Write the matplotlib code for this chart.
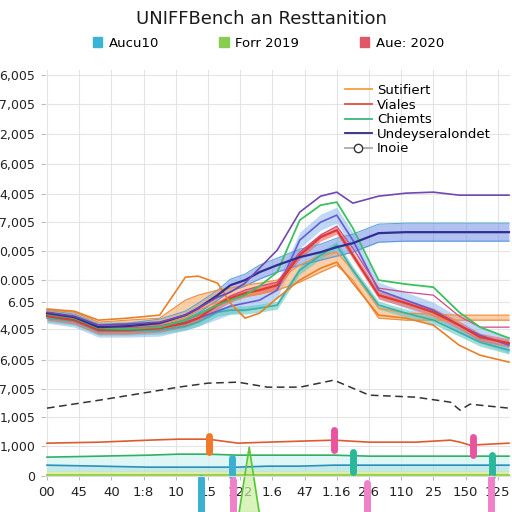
import matplotlib
matplotlib.use('Agg')
import matplotlib.pyplot as plt
from matplotlib.patches import Patch
from matplotlib.lines import Line2D
import numpy as np

# x tick labels (positions 0..14)
x_labels = ['00', '45', '40', '1:8', '10', '15', '122', '1.6', '47', '1.16',
            '2.6', '110', '25', '150', '125']

# y tick positions / labels
y_ticks = [0, 30, 59, 87, 116, 147, 174, 196, 225, 254, 282, 312, 342, 372, 401]
y_labels = ['0', '1,000', '1,005', '7,005', '6,005', '4,005', '6.05', '0.005',
            '0,005', '7,005', '4,005', '6,005', '2,005', '7,005', '6,005']

# upper cluster shared x grid
x_up = [0, 0.85, 1.6, 2.5, 3.5, 4.3, 4.7, 5.3, 5.7, 6.15, 6.6, 7.15, 7.85,
        8.5, 9.0, 9.5, 10.3, 11.15, 12.0, 12.8, 13.45, 14.35]

purple_top = [164, 160, 151, 152, 154, 161, 168, 179, 184, 193, 208, 226, 264,
              280, 284, 273, 280, 283, 284, 281, 281, 281]
navy_mid = [163, 159, 149, 150, 153, 161, 168, 181, 191, 196, 204, 211, 219,
            224, 229, 233, 243, 244, 244, 244, 244, 244]
navy_half = [3, 3, 3, 3, 4, 4, 5, 5, 6, 6, 7, 7, 8, 8, 9, 9, 9, 9, 9, 9, 9, 9]
green_ch = [162, 158, 148, 147, 149, 156, 162, 171, 176, 181, 190, 204, 256,
            271, 274, 248, 196, 192, 189, 164, 149, 138]
blue_peak = [161, 157, 147, 147, 148, 154, 158, 165, 170, 173, 176, 186, 236,
             254, 261, 236, 186, 176, 166, 151, 141, 131]
red_mid = [160, 156, 146, 146, 148, 153, 158, 171, 178, 183, 186, 191, 221,
           239, 246, 221, 181, 173, 164, 151, 139, 133]
orange_hi = [166, 164, 154, 156, 158, 176, 181, 186, 188, 191, 193, 196, 211,
             221, 224, 206, 168, 163, 162, 161, 161, 161]
orange_lo = [160, 158, 149, 150, 152, 158, 166, 174, 178, 180, 182, 186, 194,
             204, 211, 196, 158, 156, 156, 156, 156, 156]
orange_s = [167, 165, 156, 158, 161, 199, 200, 193, 173, 158, 163, 178, 196,
            208, 214, 193, 161, 158, 151, 131, 121, 114]
teal_mid = [158, 155, 145, 145, 146, 150, 154, 164, 166, 166, 168, 171, 206,
            221, 231, 206, 171, 163, 156, 144, 134, 126]
pink_thin = [161, 157, 148, 148, 150, 156, 161, 172, 180, 186, 190, 194, 224,
             241, 250, 228, 188, 184, 181, 160, 149, 149]

# lower lines
x_low = [0, 1.63, 3.16, 4.08, 5.0, 5.93, 6.85, 7.86, 8.91, 10.01, 11.45,
         12.53, 12.83, 13.14, 14.35]
dashed = [68, 76, 84, 89, 93, 94, 89, 89, 96, 81, 79, 74, 66, 72, 68]
red_low = [33, 34, 36, 37, 37, 33, 34, 35, 36, 34, 34, 36, 34, 31, 33]
green_low = [19, 20, 21, 22, 22, 21, 21, 21, 21, 20, 20, 20, 20, 20, 20]
blue_low = [11, 10, 9, 9, 9, 9, 10, 10, 11, 11, 11, 11, 11, 11, 11]

# pill markers: x, y bottom, y top, colour
pill_x = [5.03, 8.9, 13.23, 9.5, 13.82, 5.74, 4.78, 5.77, 9.94, 13.79]
pill_y0 = [24, 26, 21, 4, 0, 0, -36, -36, -36, -36]
pill_y1 = [40, 46, 39, 24, 21, 18, -2, -4, -7, -2]
pill_c = ['#f07828', '#e8559e', '#e8559e', '#2bb89a', '#2bb89a', '#3ab0d0',
          '#3ab0d0', '#f080c8', '#f080c8', '#f080c8']
spike_x = [5.97, 6.28, 6.59]
spike_y = [-36, 29, -36]

fig = plt.figure(figsize=(5.12, 5.12), dpi=100)
ax = fig.add_axes([0.088, 0.07, 0.908, 0.793])

a = np.array
# bands
ax.fill_between(x_up, a(navy_mid) - a(navy_half), a(navy_mid) + a(navy_half),
                color='#6f8fe8', alpha=0.55, lw=0)
ax.plot(x_up, a(navy_mid) - a(navy_half), color='#5a9ad8', lw=0.8)
ax.plot(x_up, a(navy_mid) + a(navy_half), color='#5aa8d8', lw=0.8)
ax.fill_between(x_up, a(blue_peak) - 8, a(blue_peak) + 8, color='#7fb2ee', alpha=0.5, lw=0)
ax.fill_between(x_up, orange_lo, orange_hi, color='#f8a860', alpha=0.55, lw=0)
ax.plot(x_up, orange_hi, color='#f09040', lw=0.9)
ax.plot(x_up, orange_lo, color='#f09040', lw=0.9)
ax.fill_between(x_up, a(teal_mid) - 4, a(teal_mid) + 4, color='#60c8c0', alpha=0.6, lw=0)
ax.fill_between(x_up, a(red_mid) - 4, a(red_mid) + 4, color='#f06060', alpha=0.6, lw=0)

ax.plot(x_up, teal_mid, color='#38b0a8', lw=1.2)
ax.plot(x_up, blue_peak, color='#6a5ad0', lw=1.2)
ax.plot(x_up, pink_thin, color='#d0488a', lw=0.9)
ax.plot(x_up, red_mid, color='#e03a30', lw=1.6)
ax.plot(x_up, green_ch, color='#3cc060', lw=1.3)
ax.plot(x_up, orange_s, color='#e8802a', lw=1.2)
ax.plot(x_up, navy_mid, color='#2e2f90', lw=1.6)
ax.plot(x_up, purple_top, color='#7048b0', lw=1.2)

# lower region
ax.fill_between(x_low, 0, 5, color='#d8ec90', alpha=0.8, lw=0)
ax.fill_between(x_low, 5, blue_low, color='#a8e0e8', alpha=0.7, lw=0)
ax.fill_between(x_low, blue_low, green_low, color='#d8f4f4', alpha=0.8, lw=0)
ax.plot(x_low, [1] * len(x_low), color='#9ad050', lw=1.5)
ax.plot(x_low, blue_low, color='#2a90b8', lw=1.2)
ax.plot(x_low, green_low, color='#30b060', lw=1.2)
ax.plot(x_low, red_low, color='#e05a30', lw=1.2)
ax.plot(x_low, dashed, color='#333333', lw=1.1, ls=(0, (5, 3)))

for px, y0, y1, c in zip(pill_x, pill_y0, pill_y1, pill_c):
    ax.plot([px, px], [y0, y1], color=c, lw=5, solid_capstyle='round', clip_on=False)
ax.fill(spike_x, spike_y, color='#c8f0a0', alpha=0.7, clip_on=False)
ax.plot(spike_x, spike_y, color='#58c838', lw=1.2, clip_on=False)

ax.set_xlim(-0.06, 14.38)
ax.set_ylim(0, 406)
ax.set_xticks(range(15))
ax.set_xticklabels(x_labels, fontsize=9.5, color='#222222')
ax.set_yticks(y_ticks)
ax.set_yticklabels(y_labels, fontsize=9, color='#222222')
ax.tick_params(length=3, color='#bbbbbb', pad=4)
ax.grid(True, color='#e4e4e4', lw=0.8)
ax.set_axisbelow(True)
for s in ['top', 'right', 'left']:
    ax.spines[s].set_visible(False)
ax.spines['bottom'].set_color('#dddddd')

# inner legend
handles = [Line2D([], [], color='#f0a040', lw=1.3),
           Line2D([], [], color='#e05040', lw=1.3),
           Line2D([], [], color='#3cb878', lw=1.3),
           Line2D([], [], color='#2a2a80', lw=1.3),
           Line2D([], [], color='#aaaaaa', lw=1.3, marker='o', mfc='white',
                  mec='#333333', ms=6, markevery=[1])]
ax.legend(handles, ['Sutifiert', 'Viales', 'Chiemts', 'Undeyseralondet', 'Inoie'],
          loc='upper left', bbox_to_anchor=(0.62, 0.995), frameon=False,
          fontsize=9.5, handlelength=2.0, handletextpad=0.4, labelspacing=0.12)

fig.text(0.51, 0.962, 'UNIFFBench an Resttanition', ha='center', va='center',
         fontsize=13, color='#1a1a1a')
top = [Patch(color='#3ab4d4'), Patch(color='#88cc50'), Patch(color='#e05868')]
fig.legend(top, ['Aucu10', 'Forr 2019', 'Aue: 2020'], loc='center',
           bbox_to_anchor=(0.524, 0.916), ncol=3, frameon=False, fontsize=9.5,
           handlelength=0.7, handleheight=0.7, handletextpad=0.5, columnspacing=4.6)

fig.savefig('out.png', dpi=100)
